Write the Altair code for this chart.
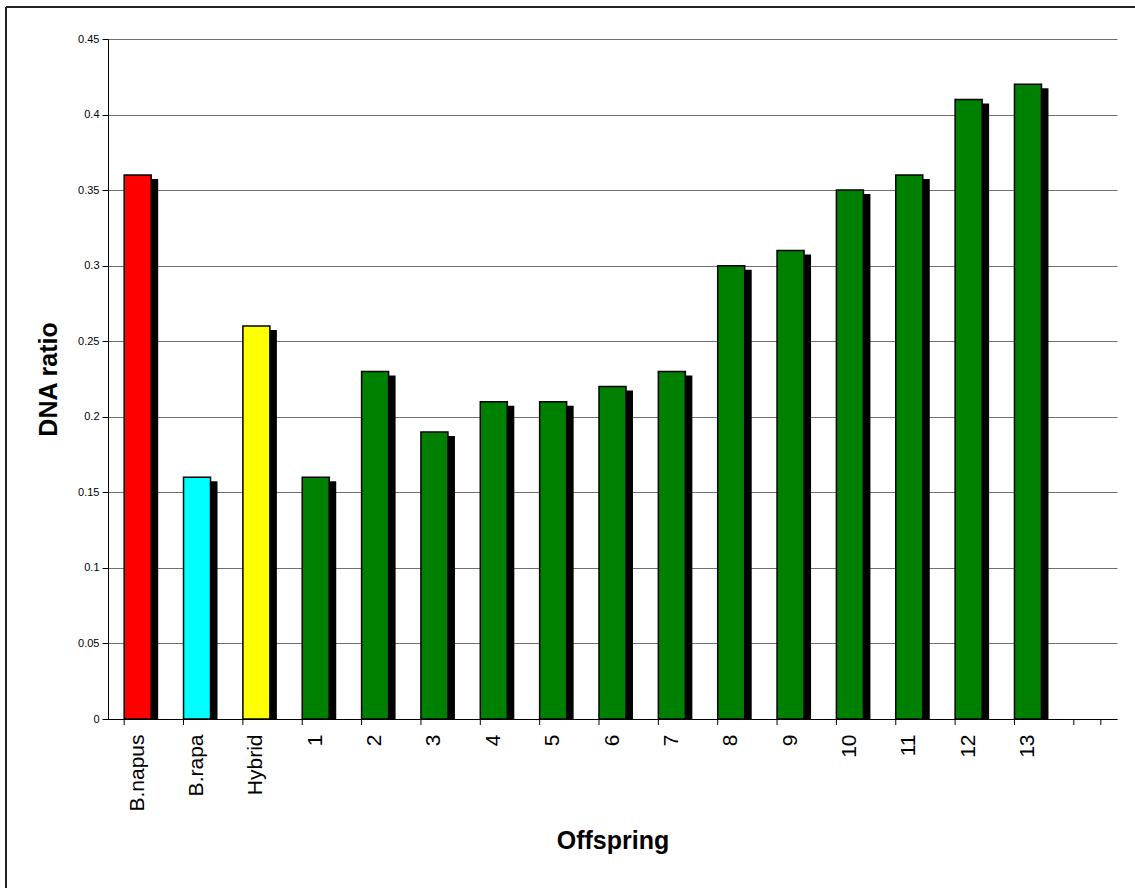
import altair as alt
import pandas as pd

# Bar categories, DNA ratios and fill colours
categories = ["B.napus", "B.rapa", "Hybrid", "1", "2", "3", "4", "5", "6", "7",
              "8", "9", "10", "11", "12", "13"]
ratios = [0.36, 0.16, 0.26, 0.16, 0.23, 0.19, 0.21, 0.21, 0.22, 0.23,
          0.30, 0.31, 0.35, 0.36, 0.41, 0.42]
fills = ["#FF0000", "#00FFFF", "#FFFF00"] + ["#008000"] * 13
y_ticks = [0, 0.05, 0.1, 0.15, 0.2, 0.25, 0.3, 0.35, 0.4, 0.45]

# an empty trailing slot on the category axis
spare = " "
x_domain = categories + [spare]

W, H = 1009, 680
FONT = "Liberation Sans"

df = pd.DataFrame({"cat": categories, "ratio": ratios})
slots = pd.DataFrame({"cat": x_domain})
last_slot = pd.DataFrame({"cat": [spare]})

x_scale = alt.Scale(domain=x_domain, paddingInner=0.545, paddingOuter=0.2725)
y_scale = alt.Scale(domain=[0, 0.45], nice=False)

x_axis = alt.Axis(
    title="Offspring", ticks=False, labelAngle=-90, labelAlign="right",
    labelBaseline="middle", labelFontSize=21, labelPadding=15, labelColor="#000",
    labelFont=FONT, domainColor="#000", domainWidth=1, grid=False,
    titleFont=FONT, titleFontSize=25, titleFontWeight="bold", titleColor="#000",
    titleX=W / 2, titleY=129, titleBaseline="alphabetic", titleAlign="center",
)
y_axis = alt.Axis(
    title="DNA ratio", values=y_ticks, format=".2~f", tickSize=6, tickColor="#000",
    labelFontSize=11, labelPadding=3, labelColor="#000", labelFont=FONT,
    domainColor="#000", domainWidth=1, grid=True, gridColor="#707070", gridWidth=1,
    titleFont=FONT, titleFontSize=25, titleFontWeight="bold", titleColor="#000",
    titleAngle=-90, titleX=-60, titleY=H / 2, titleAlign="center",
    titleBaseline="middle",
)

base = alt.Chart(df)

# drop shadow: shifted right and its top pushed down, bottom kept on the axis
shadow = base.mark_bar(color="#000", xOffset=7, yOffset=4, y2Offset=0).encode(
    x=alt.X("cat:N", scale=x_scale, axis=x_axis, sort=x_domain),
    y=alt.Y("ratio:Q", scale=y_scale, axis=y_axis),
    y2=alt.datum(0),
)

bars = base.mark_bar(stroke="#000", strokeWidth=1.5).encode(
    x=alt.X("cat:N", scale=x_scale, sort=x_domain),
    y=alt.Y("ratio:Q", scale=y_scale),
    color=alt.Color("cat:N", scale=alt.Scale(domain=categories, range=fills), legend=None),
)

# category-boundary tick marks below the axis line
ticks_start = alt.Chart(slots).mark_rule(color="#000", strokeWidth=1).encode(
    x=alt.X("cat:N", scale=x_scale, bandPosition=0),
    y=alt.value(H), y2=alt.value(H + 6),
)
ticks_end = alt.Chart(last_slot).mark_rule(color="#000", strokeWidth=1).encode(
    x=alt.X("cat:N", scale=x_scale, bandPosition=1),
    y=alt.value(H), y2=alt.value(H + 6),
)

# outer chart frame (top and left edges)
frame_top = alt.Chart(last_slot).mark_rule(color="#222", strokeWidth=2, clip=False).encode(
    x=alt.value(-102), x2=alt.value(W + 30), y=alt.value(-32),
)
frame_left = alt.Chart(last_slot).mark_rule(color="#222", strokeWidth=2, clip=False).encode(
    x=alt.value(-102), y=alt.value(-32), y2=alt.value(H + 200),
)

chart = alt.layer(shadow, bars, ticks_start, ticks_end, frame_top, frame_left).properties(
    width=W, height=H,
    autosize=alt.AutoSizeParams(type="none"),
    padding={"left": 108, "top": 39, "right": 18, "bottom": 169},
    background="white",
).configure_view(stroke=None)

chart.save("out.html", embed_options={"renderer": "svg", "actions": False})
